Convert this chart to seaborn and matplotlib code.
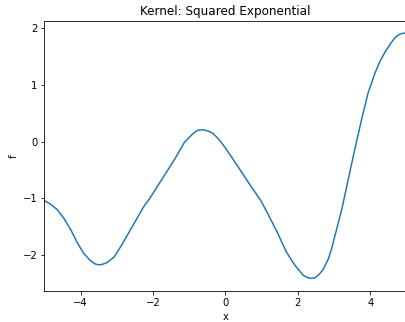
import matplotlib
matplotlib.use("Agg")
import matplotlib.pyplot as plt
import seaborn as sns
import pandas as pd

x_vals = [-5.0, -4.83, -4.64, -4.46, -4.27, -4.09, -3.91, -3.72, -3.58, -3.44,
          -3.26, -3.07, -2.89, -2.70, -2.52, -2.35, -2.24, -2.10, -1.97, -1.69,
          -1.41, -1.14, -0.90, -0.77, -0.63, -0.49, -0.35, -0.21, -0.07, 0.16,
          0.43, 0.71, 0.99, 1.22, 1.45, 1.68, 1.91, 2.14, 2.25, 2.37,
          2.47, 2.60, 2.70, 2.84, 2.93, 3.02, 3.21, 3.39, 3.57, 3.76,
          3.94, 4.13, 4.27, 4.40, 4.55, 4.68, 4.80, 4.91, 5.0]
f_vals = [-1.04, -1.10, -1.20, -1.35, -1.55, -1.78, -1.97, -2.10, -2.16, -2.17,
          -2.13, -2.03, -1.85, -1.64, -1.44, -1.25, -1.13, -1.01, -0.88, -0.60,
          -0.32, -0.02, 0.14, 0.20, 0.21, 0.19, 0.15, 0.06, -0.05, -0.26,
          -0.52, -0.79, -1.05, -1.33, -1.62, -1.94, -2.17, -2.35, -2.39, -2.41,
          -2.40, -2.33, -2.25, -2.07, -1.89, -1.67, -1.20, -0.67, -0.14, 0.39,
          0.86, 1.21, 1.42, 1.57, 1.72, 1.83, 1.89, 1.91, 1.91]

title = "Kernel: Squared Exponential"
xlabel = "x"
ylabel = "f"

df = pd.DataFrame({"x": x_vals, "f": f_vals})

fig = plt.figure(figsize=(405 / 72, 322 / 72), dpi=72)
ax = fig.add_axes([44.3 / 405, 31.3 / 322, (406.5 - 44.3) / 405, (290.7 - 21) / 322])
sns.lineplot(data=df, x="x", y="f", ax=ax, color="#1f77b4", linewidth=1.5)
ax.set_xlim(-5, 5)
ax.set_title(title)
ax.set_xlabel(xlabel)
ax.set_ylabel(ylabel)
fig.savefig("out.png", dpi=72)
